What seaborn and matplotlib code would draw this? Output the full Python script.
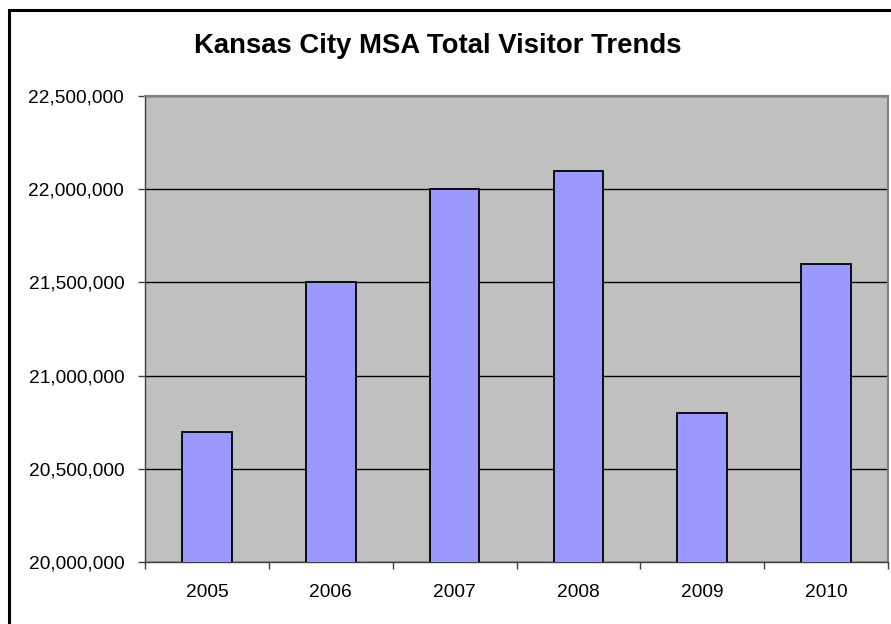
import matplotlib
matplotlib.use("Agg")
import matplotlib.pyplot as plt
from matplotlib.patches import Rectangle
from matplotlib.ticker import FuncFormatter, FixedLocator
import seaborn as sns
import pandas as pd

years = ["2005", "2006", "2007", "2008", "2009", "2010"]
visitors = [20700000, 21500000, 22000000, 22100000, 20800000, 21600000]
y_ticks = [20000000, 20500000, 21000000, 21500000, 22000000, 22500000]
title = "Kansas City MSA Total Visitor Trends"

sns.set_theme(style="white")
plt.rcParams["font.family"] = ["Liberation Sans", "DejaVu Sans"]

df = pd.DataFrame({"year": years, "visitors": visitors})

W, H = 891, 624
fig = plt.figure(figsize=(W / 100, H / 100), dpi=100)
fig.patch.set_facecolor("white")

# outer chart border
fig.patches.append(Rectangle((8.5 / W, -0.01), 1.02, (624 - 9.5) / H + 0.01,
                             transform=fig.transFigure, fill=False,
                             edgecolor="black", linewidth=2.2, zorder=0))

ax = fig.add_axes([145 / W, (H - 562) / H, (888 - 145) / W, (562 - 96) / H])
ax.set_facecolor("#C0C0C0")

sns.barplot(data=df, x="year", y="visitors", ax=ax, width=0.4,
            color="#9999FF", saturation=1, edgecolor="black", linewidth=1.3,
            zorder=3)

ax.set_ylim(y_ticks[0], y_ticks[-1])
ax.set_xlim(-0.5, len(years) - 0.5)
ax.set_yticks(y_ticks)
ax.yaxis.set_major_formatter(FuncFormatter(lambda v, p: f"{int(v):,}"))
ax.yaxis.grid(True, color="black", linewidth=1.0, zorder=1)
ax.set_axisbelow(True)

ax.set_xlabel("")
ax.set_ylabel("")

# category labels at centres, tick marks at category boundaries
ax.tick_params(axis="x", which="major", length=0, pad=16, labelsize=13.8,
               colors="black")
ax.xaxis.set_minor_locator(FixedLocator([i - 0.5 for i in range(len(years) + 1)]))
ax.tick_params(axis="x", which="minor", bottom=True, length=5, width=1,
               color="#404040")
ax.tick_params(axis="y", left=True, length=5, width=1, pad=10,
               labelsize=13.8, colors="black")
ax.tick_params(axis="y", color="#404040")

for side in ["top", "right"]:
    ax.spines[side].set_color("#808080")
    ax.spines[side].set_linewidth(1.5)
for side in ["left", "bottom"]:
    ax.spines[side].set_color("#404040")
    ax.spines[side].set_linewidth(1.0)

fig.text(438 / W, 1 - 46 / H, title, ha="center", va="center",
         fontsize=19.8, fontweight="bold", color="black")

fig.savefig("out.png", dpi=100)
